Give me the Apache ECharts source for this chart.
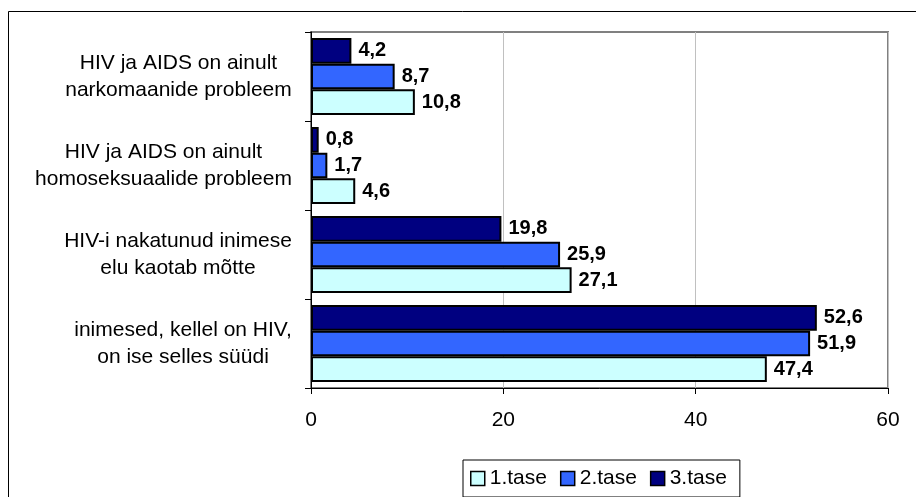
<!DOCTYPE html>
<html>
<head>
<meta charset="utf-8">
<script src="https://cdn.jsdelivr.net/npm/echarts@6/dist/echarts.min.js"></script>
<style>
html,body{margin:0;padding:0;background:#fff;}
#chart{width:916px;height:497px;}
</style>
</head>
<body>
<div id="chart"></div>
<script>
// Categories, top to bottom as shown
var categories = [
  'HIV ja AIDS on ainult\nnarkomaanide probleem',
  'HIV ja AIDS on ainult\nhomoseksuaalide probleem',
  'HIV-i nakatunud inimese\nelu kaotab mõtte',
  'inimesed, kellel on HIV,\non ise selles süüdi'
];
var seriesNames = ['1.tase', '2.tase', '3.tase'];
var tase1 = [10.8, 4.6, 27.1, 47.4];
var tase2 = [8.7, 1.7, 25.9, 51.9];
var tase3 = [4.2, 0.8, 19.8, 52.6];
var xTicks = [0, 20, 40, 60];

var FONT = '"Liberation Sans", Arial, sans-serif';
var catFontSize = 21;

// measure each category block to center lines inside a right-aligned block
var cv = document.createElement('canvas').getContext('2d');
cv.font = catFontSize + 'px "Liberation Sans"';
var rich = {};
categories.forEach(function (c, i) {
  var w = 0;
  c.split('\n').forEach(function (l) { w = Math.max(w, cv.measureText(l).width); });
  rich['c' + i] = { width: Math.ceil(w) + 2, align: 'center', fontSize: catFontSize, fontFamily: FONT, color: '#000', lineHeight: 27 };
});

var colors = { '1.tase': '#CCFFFF', '2.tase': '#3366FF', '3.tase': '#000080' };
var valuesByName = { '1.tase': tase1, '2.tase': tase2, '3.tase': tase3 };

function mkSeries(name) {
  return {
    name: name,
    type: 'bar',
    data: valuesByName[name],
    barGap: '0%',
    barCategoryGap: '13.5%',
    itemStyle: { color: colors[name], borderColor: '#000', borderWidth: 2 },
    label: {
      show: true,
      position: 'right',
      distance: 7,
      fontFamily: FONT,
      fontWeight: 'bold',
      fontSize: 20,
      color: '#000',
      formatter: function (p) { return String(p.value).replace('.', ','); }
    }
  };
}

var chart = echarts.init(document.getElementById('chart'), null, { renderer: 'canvas' });
chart.setOption({
  backgroundColor: '#fff',
  animation: false,
  textStyle: { fontFamily: FONT },
  graphic: [{
    type: 'rect',
    shape: { x: 8.5, y: 11.5, width: 930, height: 520 },
    style: { fill: null, stroke: '#000', lineWidth: 1 },
    silent: true
  }],
  grid: {
    left: 311, right: 28, top: 32, bottom: 109,
    show: true, borderColor: '#808080', borderWidth: 2, backgroundColor: 'transparent'
  },
  legend: {
    data: seriesNames,
    left: 463, top: 460,
    orient: 'horizontal',
    itemWidth: 14, itemHeight: 14, itemGap: 13,
    padding: [8, 13, 8, 7],
    borderColor: '#000', borderWidth: 1,
    icon: 'rect',
    itemStyle: { borderColor: '#000', borderWidth: 1.5 },
    textStyle: { fontFamily: FONT, fontSize: 21, color: '#000' }
  },
  xAxis: {
    type: 'value',
    min: xTicks[0], max: xTicks[xTicks.length - 1], interval: xTicks[1] - xTicks[0],
    axisLine: { show: true, lineStyle: { color: '#000', width: 1 } },
    axisTick: { show: true, length: 6, lineStyle: { color: '#000' } },
    axisLabel: { fontFamily: FONT, fontSize: 21, color: '#000', margin: 22 },
    splitLine: { show: true, lineStyle: { color: '#c0c0c0', width: 1 } }
  },
  yAxis: {
    type: 'category',
    data: categories,
    inverse: true,
    axisLine: { show: true, lineStyle: { color: '#000', width: 1 } },
    axisTick: { show: true, length: 6, lineStyle: { color: '#000' } },
    axisLabel: {
      align: 'right',
      margin: 18,
      interval: 0,
      formatter: function (v) {
        var i = categories.indexOf(v);
        return v.split('\n').map(function (l) { return '{c' + i + '|' + l + '}'; }).join('\n');
      },
      rich: rich
    },
    splitLine: { show: false }
  },
  series: [mkSeries('3.tase'), mkSeries('2.tase'), mkSeries('1.tase')]
});
</script>
</body>
</html>
